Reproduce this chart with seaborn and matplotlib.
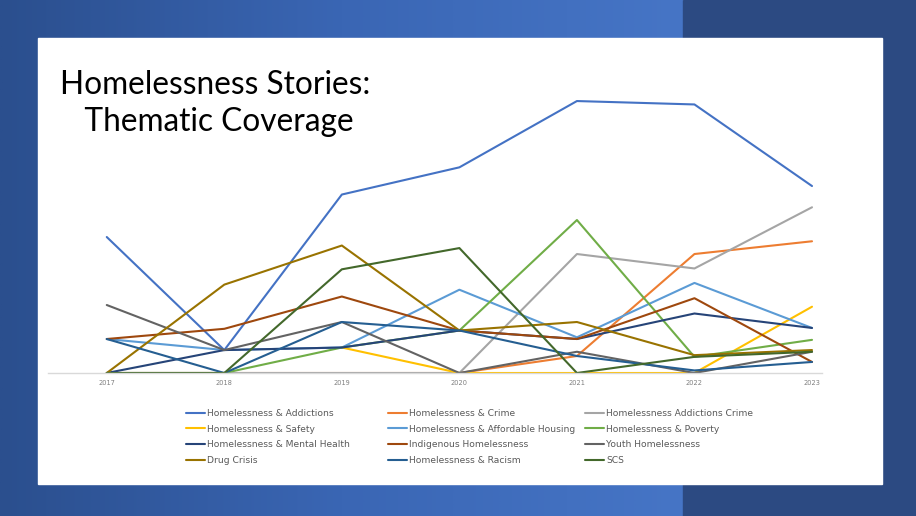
import numpy as np
import pandas as pd
import seaborn as sns
import matplotlib
matplotlib.use("Agg")
import matplotlib.pyplot as plt
from matplotlib.colors import LinearSegmentedColormap
from matplotlib.patches import Rectangle
from matplotlib.lines import Line2D

### data (story counts, estimated)
years = [2017, 2018, 2019, 2020, 2021, 2022, 2023]
addictions = [16, 2.7, 21, 24.2, 32, 31.6, 22]
crime = [0, 0, 0, 0, 2, 14, 15.5]
addictions_crime = [0, 0, 0, 0, 14, 12.3, 19.5]
safety = [np.nan, np.nan, 3, 0, 0, 0, 7.8]
affordable_housing = [4, 2.7, 3, 9.8, 4.2, 10.6, 5.3]
poverty = [0, 0, 3, 5, 18, 1.9, 3.9]
mental_health = [0, 2.7, 3, 5, 4, 7, 5.3]
indigenous = [4, 5.2, 9, 5, 4, 8.8, 1.3]
youth = [8, 2.7, 6, 0, 2.5, 0, 2.5]
drug_crisis = [0, 10.4, 15, 5, 6, 2.1, 2.7]
racism = [4, 0, 6, 5, 2, 0.3, 1.3]
scs = [0, 0, 12.2, 14.7, 0, 1.9, 2.5]

labels = ["Homelessness & Addictions", "Homelessness & Crime", "Homelessness Addictions Crime",
          "Homelessness & Safety", "Homelessness & Affordable Housing", "Homelessness & Poverty",
          "Homelessness & Mental Health", "Indigenous Homelessness", "Youth Homelessness",
          "Drug Crisis", "Homelessness & Racism", "SCS"]
series = [addictions, crime, addictions_crime, safety, affordable_housing, poverty,
          mental_health, indigenous, youth, drug_crisis, racism, scs]
colors = ["#4472C4", "#ED7D31", "#A5A5A5", "#FFC000", "#5B9BD5", "#70AD47",
          "#264478", "#9E480E", "#636363", "#997300", "#255E91", "#43682B"]

rows = []
for lab, vals in zip(labels, series):
    for yr, v in zip(years, vals):
        rows.append({"year": yr, "count": v, "theme": lab})
df = pd.DataFrame(rows)

sns.set_style("white")
fig = plt.figure(figsize=(9.16, 5.16), dpi=100)

# slide background
bg = fig.add_axes([0, 0, 1, 1], zorder=-5)
grad = np.linspace(0, 1, 400)[None, :] * np.ones((50, 1))
cmap = LinearSegmentedColormap.from_list("slide", ["#2B4F8E", "#3A66B4", "#4675C6"])
bg.imshow(grad, cmap=cmap, aspect="auto", extent=[0, 683 / 916, 0, 1])
bg.add_patch(Rectangle((683 / 916, 0), 1 - 683 / 916, 1, color="#2C4A82"))
bg.add_patch(Rectangle((38 / 916, 1 - 484 / 516), 844 / 916, 446 / 516, color="white"))
bg.set_xlim(0, 1)
bg.set_ylim(0, 1)
bg.axis("off")

ax = fig.add_axes([48 / 916, 143 / 516, 774 / 916, 283 / 516])
ax.set_facecolor("none")
sns.lineplot(data=df, x="year", y="count", hue="theme", hue_order=labels,
             palette=colors, linewidth=1.5, legend=False, ax=ax)
ax.set_xlim(2016.5, 2023.085)
ax.set_ylim(0, 33.3)
ax.set_xticks(years)
ax.set_xticklabels([str(y) for y in years], fontsize=4.8, color="#7F7F7F")
ax.tick_params(axis="x", length=0, pad=5)
ax.set_yticks([])
ax.set_xlabel("")
ax.set_ylabel("")
for s in ["top", "left", "right"]:
    ax.spines[s].set_visible(False)
ax.spines["bottom"].set_color("#D9D9D9")
ax.spines["bottom"].set_linewidth(1)

fig.text(60 / 916, 1 - 70 / 516, "Homelessness Stories:\n   Thematic Coverage", fontsize=22.8,
         family="Lato", color="black", va="top", ha="left", linespacing=1.3)

# legend, three columns of equal width
col_x = [186 / 916, 388 / 916, 585 / 916]
for c in range(3):
    idx = list(range(c, 12, 3))
    handles = [Line2D([], [], color=colors[i], lw=1.5) for i in idx]
    leg = fig.legend(handles, [labels[i] for i in idx], loc="upper left",
                     bbox_to_anchor=(col_x[c], 1 - 409 / 516), frameon=False,
                     fontsize=6.6, handlelength=2.1, handletextpad=0.2,
                     labelspacing=0.72, borderaxespad=0, borderpad=0)
    for t in leg.get_texts():
        t.set_color("#595959")

plt.savefig("out.png", dpi=100)
